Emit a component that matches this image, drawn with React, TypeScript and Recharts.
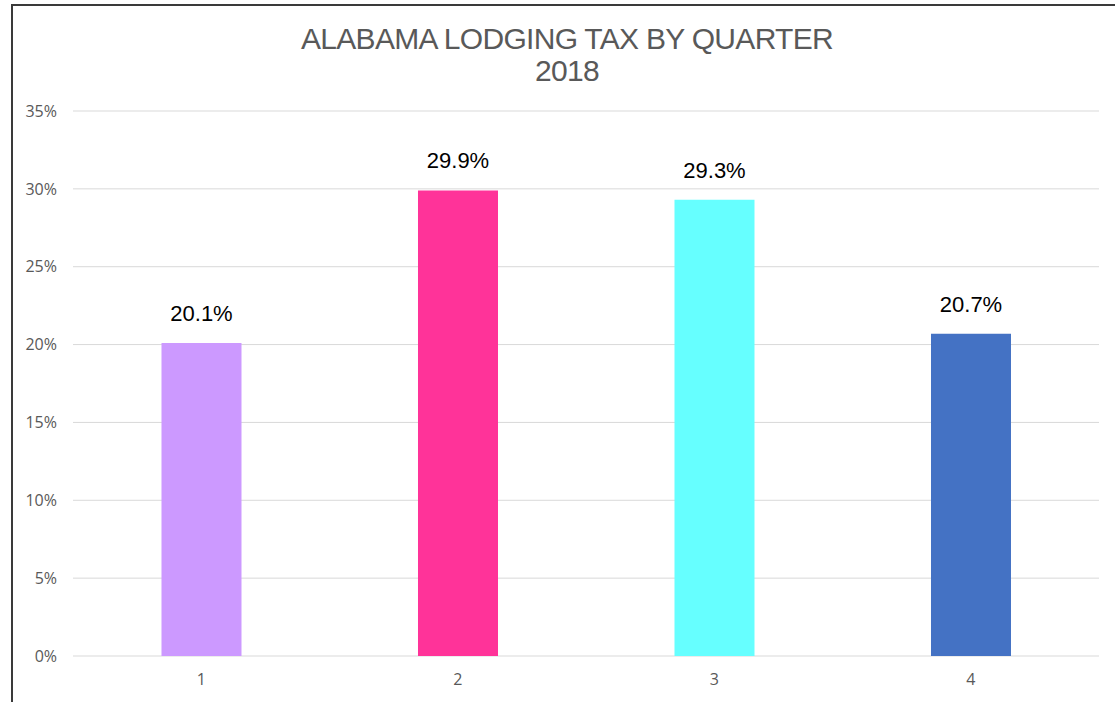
import { BarChart, Bar, XAxis, YAxis, CartesianGrid, Cell, LabelList } from "recharts";

const quarters = ["1", "2", "3", "4"];
const shares = [20.1, 29.9, 29.3, 20.7];
const barColors = ["#CC99FF", "#FF3399", "#66FFFF", "#4472C4"];
const yTicks = [0, 5, 10, 15, 20, 25, 30, 35];
const titleLines = ["ALABAMA LODGING TAX BY QUARTER", "2018"];

const data = quarters.map((q, i) => ({ quarter: q, value: shares[i] }));

const tickStyle = { fontSize: 16, fill: "#595959", fontFamily: "'Open Sans', sans-serif" };

export default function App() {
  return (
    <div style={{ position: "absolute", left: 0, top: 0, width: 1115, height: 702, overflow: "hidden", background: "#fff" }}>
      {/* chart frame: only left and top edges fall inside the picture */}
      <div
        style={{
          position: "absolute",
          left: 11,
          top: 4,
          width: 1200,
          height: 800,
          border: "2px solid #3a3a3a",
          boxSizing: "border-box",
        }}
      />
      <div
        style={{
          position: "absolute",
          left: 0,
          width: 1134,
          top: 23,
          textAlign: "center",
          fontFamily: "'Liberation Sans', Arial, sans-serif",
          fontSize: 30,
          lineHeight: "32px",
          color: "#595959",
          letterSpacing: -0.7,
        }}
      >
        {titleLines.map((t) => (
          <div key={t}>{t}</div>
        ))}
      </div>
      <div style={{ position: "absolute", left: 0, top: 0 }}>
        <BarChart
          width={1115}
          height={702}
          data={data}
          margin={{ top: 111, right: 16, bottom: 16, left: 0 }}
          barCategoryGap="34.5%"
        >
          <CartesianGrid stroke="#d9d9d9" strokeWidth={1} vertical={false} />
          <XAxis
            dataKey="quarter"
            axisLine={false}
            tickLine={false}
            tickSize={0}
            tickMargin={18}
            height={30}
            tick={tickStyle}
          />
          <YAxis
            width={73}
            domain={[0, 35]}
            ticks={yTicks}
            interval={0}
            axisLine={false}
            tickLine={false}
            tickSize={0}
            tickMargin={16}
            tickFormatter={(v: number) => `${v}%`}
            tick={tickStyle}
          />
          <Bar dataKey="value" isAnimationActive={false}>
            {data.map((d, i) => (
              <Cell key={d.quarter} fill={barColors[i]} />
            ))}
            <LabelList
              dataKey="value"
              position="top"
              offset={22}
              formatter={(v: number) => `${v.toFixed(1)}%`}
              style={{ fontSize: 22, fill: "#000", fontFamily: "'Liberation Sans', Arial, sans-serif" }}
            />
          </Bar>
        </BarChart>
      </div>
    </div>
  );
}
